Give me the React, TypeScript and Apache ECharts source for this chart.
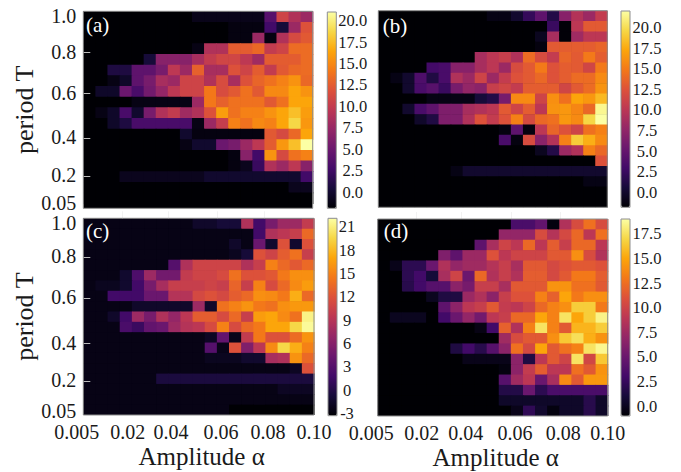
import React, { useEffect, useRef } from "react";
import * as echarts from "echarts";

const A = -1.9, B = -1.8, C = -2.5, D = -1, c0 = -3.3;

const panelA = [
  [A,A,A,A,A,A,A,A,A,-1,-1,-1,-1,-1,-1,3.8,10.7,8.9,7.7],
  [A,A,A,A,A,A,A,A,A,A,A,A,-1.4,-1.4,-1.4,2.7,0.4,7.7,11.8],
  [A,A,A,A,A,A,A,A,A,A,A,A,-1.4,-1.4,7.7,-1.4,8.9,11.2,12.3],
  [A,A,A,A,A,A,A,A,A,-1.2,8.9,8.9,12.5,12.5,13.2,10,10.7,13.4,13.4],
  [A,A,A,A,A,0.4,6.6,6.6,6.6,8.4,10,10.9,10.9,9.6,8,12.5,12.5,12.5,13.4],
  [A,A,0.8,0.8,4.3,4.3,5.7,9.6,7.7,12.8,8.4,8.4,11.8,10.7,12.5,10,12.3,13.2,13.4],
  [A,A,-1.2,-0.3,4.3,5.7,8.4,7.7,10.7,10.7,8.9,11.4,8.4,11.8,13,13.7,14.6,15.5,13.2],
  [A,-0.3,-0.3,5,3.1,5.4,7.3,9.6,10.7,10.7,14.1,11.4,12.3,13.7,12.3,15,15,16.4,15.5],
  [A,A,A,A,-1.2,-1.2,-1.2,-1.2,-1.2,7.7,14.1,12.8,13.7,13.7,13.7,12.3,13.7,16.4,16.4],
  [A,-1.2,-0.3,3.1,-0.1,5.7,8.9,10,8,8.9,11.8,16,13.7,14.6,14.6,15.5,16.4,17.6,16],
  [A,A,-0.3,0.8,3.1,3.1,3.1,3.1,3.1,-1.2,7.7,10.2,14.6,13.7,15,14.6,16.4,18.7,15.7],
  [A,A,A,A,A,A,A,A,-0.1,-1.4,-1.4,-1.4,-1.4,-1.4,-1.4,12.3,11.2,13.2,16.4],
  [A,A,A,A,A,A,A,A,-1.2,-0.1,-0.1,5,5.7,7.7,9.6,12.5,15.7,17.6,21],
  [A,A,A,A,A,A,A,A,A,A,A,A,-1.4,6.6,2.7,15.5,11.2,13.7,14.6],
  [A,A,A,A,A,A,A,A,A,A,A,A,-1.4,-0.8,2.2,8.9,7.7,9.6,6.6],
  [A,A,A,-0.8,-0.8,-0.8,-0.8,-0.8,-0.8,-0.8,-0.1,-0.1,-0.1,-0.1,-0.1,-0.1,-0.1,-0.1,2.7],
  [A,A,A,A,A,A,A,A,A,A,A,A,A,A,A,A,A,-0.8,-0.8],
  [A,A,A,A,A,A,A,A,A,A,A,A,A,A,A,A,A,A,A],
];

const panelB = [
  [B,B,B,B,B,B,B,B,B,-1.1,-1.1,0.1,2.2,4.6,1.3,7,9.6,8.2,10.6],
  [B,B,B,B,B,B,B,B,B,B,B,B,B,B,2.5,-1.6,10.1,13,13],
  [B,B,B,B,B,B,B,B,B,B,B,B,B,-0.6,8.9,-1.6,8.4,10.1,10.1],
  [B,B,B,B,B,B,B,B,B,B,B,B,B,-1.3,13,13.2,13.2,13.2,13.7],
  [B,B,B,B,B,B,B,B,8.9,10.1,10.8,9.4,14.1,12,10.6,13.7,13,14.9,13.2],
  [B,B,B,B,3,3.4,7,7,8.9,10.1,8.2,12,13,14.9,12.5,13.2,13,11.5,14.9],
  [B,-1.1,0.1,3.7,1.1,3.4,9.4,8.2,11.3,8.2,10.6,12.5,13,13.9,12.5,13.2,14.1,14.1,15.8],
  [B,B,0.1,3.4,4.2,2.5,6.1,7.7,7.2,10.8,11.5,10.6,13.2,13.2,13.2,11.5,13,14.1,16.3],
  [B,B,B,B,-1.1,-1.1,-1.1,-1.1,0.6,1.3,6.1,15.8,15.8,11.3,16.1,14.4,17.2,16.5,18.2],
  [B,B,0.1,3.4,4.6,6.5,6.5,8.9,9.4,10.1,13,11.3,13.2,10.1,16.3,16.5,15.6,13.9,21.5],
  [B,B,B,-0.1,1.1,6.5,6.5,9.4,12.5,10.6,12.5,15.3,11.8,13.9,14.4,16.5,15.8,19.6,22],
  [B,B,B,B,B,B,B,B,B,B,-1.3,4.6,-1.3,10.1,13.7,12.5,11.3,14.4,15.3],
  [B,B,B,B,B,B,B,B,B,B,3.4,-1.3,12,7.2,9.6,15.3,19.1,17.7,15.8],
  [B,B,B,B,B,B,B,B,B,B,B,B,B,-0.6,1.3,8.2,9.4,15.3,13.9],
  [B,B,B,B,B,B,B,B,B,B,B,B,B,B,B,B,B,B,12.5],
  [B,B,B,B,B,B,-1.1,0.1,0.1,0.1,0.1,0.1,0.1,0.1,0.1,0.1,0.1,0.1,0.1],
  [B,B,B,B,B,B,B,B,B,B,B,B,B,B,B,B,B,-1.1,-1.1],
  [B,B,B,B,B,B,B,B,B,B,B,B,B,B,B,B,B,B,B],
  [B,B,B,B,B,B,B,B,B,B,B,B,B,B,B,B,B,B,B],
];

const panelC = [
  [C,C,C,C,C,C,C,C,C,-1.5,-1.5,-0.8,-0.8,8.6,1.8,5.1,7.4,7.4,9.9],
  [C,C,C,C,C,C,C,C,C,C,C,C,C,C,1.8,8.6,9.4,10.2,13.5],
  [C,C,C,C,C,C,C,C,C,C,C,C,-1.5,C,4.3,-1.3,11.9,-1.3,11.9],
  [C,C,C,C,C,C,C,C,C,C,C,C,-2,-0.8,11.9,10.7,12.7,14,10.2],
  [C,C,C,C,C,C,C,3,8.6,10.7,10.7,10.7,10.7,8.6,10.2,15,13.5,12.4,13.5],
  [C,C,C,-1.3,2.5,7.4,4.8,4.8,9.9,10.7,10.7,11.4,14,11.9,11.9,12.4,14.5,15.8,15.8],
  [C,-2,-2,-1.3,1.8,5.1,8.1,10.2,10.2,10.2,10.7,10.2,13.2,10.2,15,11.4,13.5,15.5,16.5],
  [C,C,1.8,1.8,1.8,4.3,4.3,8.9,8.9,11.2,11.9,11.2,12.7,13.5,15.8,15.5,14.5,17.5,13.5],
  [C,C,C,C,-1.5,-1.5,-1.5,-1.5,-1.5,7.4,-1.5,14,15,16,14.5,14,15.8,16.3,16.3],
  [C,C,-1.5,1.8,7.4,5.1,8.6,6.9,9.4,12.7,12.7,11.4,13.5,10.2,16.5,17,15.5,14,21.3],
  [C,C,C,2.3,1.3,3.8,4.3,7.4,8.9,9.4,11.4,15,11.4,13.5,14.5,17,17,19.6,21.8],
  [C,C,C,C,C,C,C,C,C,C,-1.8,3.8,-2.3,9.9,14.5,11.9,11.9,13.7,16],
  [C,C,C,C,C,C,C,C,C,C,3,-2.3,11.9,5.6,9.4,15.5,19.6,17.5,15],
  [C,C,C,C,C,C,C,C,C,C,-2,-2,-2,-1.3,-1.3,8.1,8.6,16,13.5],
  [C,C,C,C,C,C,C,C,C,C,C,C,C,C,C,C,C,-1.8,11.9],
  [C,C,C,C,C,C,-0.5,-0.5,-0.5,-0.5,-0.5,-0.5,-0.5,-0.5,-0.5,-0.5,-0.5,-0.5,-0.5],
  [C,C,C,C,C,C,C,C,C,C,C,C,C,C,C,C,-1.8,-1.8,-1.8],
  [C,C,C,C,C,C,C,C,C,C,C,C,C,C,C,C,C,C,C],
  [C,C,C,C,C,C,C,C,C,C,C,C,c0,c0,c0,c0,c0,c0,c0],
];

const panelD = [
  [D,D,D,D,D,D,D,D,D,D,D,3.4,3.4,4.6,-0.6,8.4,10.6,12.6,10.6],
  [D,D,D,D,D,D,D,D,D,D,7,7,7,10.6,8.6,10.4,12.2,9,12.6],
  [D,D,D,D,D,D,D,D,4.4,8,10,9,12.2,9,11.6,9.6,12.2,12.2,9],
  [D,D,D,D,D,6,4.4,7.4,7.4,11,9,10,10,10,11.4,11.4,14,10.6,8.4],
  [D,-0.2,2,2,5,8.4,7,7.6,7.6,8.6,9.6,8,11.4,11.4,10.4,11,11.4,11.4,11],
  [D,D,2,3,1,8,10,5,12.2,8.4,9.6,8.4,11.6,11.6,10.4,11.4,13,13,11.6],
  [D,D,1.8,3,4,4,6.6,5.6,9.6,9.6,8,11.4,11.4,11.4,14.2,14.2,12.6,12.6,11.4],
  [D,D,D,D,0,1.4,1.4,7.4,8.4,6.6,9.6,11,11,13.4,11.8,15,13,14,14],
  [D,D,D,D,D,4.4,6.6,9,9.6,11.4,9.4,9,10,12.2,13.4,14,16.6,16.6,13],
  [D,0,0,0,D,3,5,7,5.4,9,9.6,12.2,12.2,15,13.4,17.6,15,16.6,18.4],
  [D,D,D,D,D,D,D,D,-0.4,3,11.8,8.4,13.4,17.6,13.4,11.4,15.6,15.6,16.6],
  [D,D,D,D,D,D,D,D,D,D,7.6,10.6,11.4,11.4,14,16.4,17.4,15.4,14.2],
  [D,D,D,D,D,D,1.4,3,1.8,4,6.6,12.6,10.4,15,11.4,12.6,13.4,17.6,18.6],
  [D,D,D,D,D,D,D,-0.2,-0.2,-0.2,-0.2,6.6,1.4,9,11.4,10,17.6,10.2,16.4],
  [D,D,D,D,D,D,D,D,D,D,-0.6,6.6,9.4,11.6,9,9,12.6,11.4,14.2],
  [D,D,D,D,D,D,D,D,D,D,4,7.6,9,5,8,13.8,11.4,14.4,14.4],
  [D,D,D,D,D,D,D,D,D,D,1.6,1.6,5,2,3.4,3.4,3.4,3.4,3.4],
  [D,D,D,D,D,D,D,D,D,D,0.4,0.4,0.4,0.4,0.4,0.4,0.4,1.8,0.4],
  [D,D,D,D,D,D,D,D,D,D,D,-0.2,2.2,0.6,-0.6,0.4,0.4,1.8,0.4],
];

const periodLabels = ["1.0", "0.8", "0.6", "0.4", "0.2", "0.05"];
const amplitudeLabels = ["0.005", "0.02", "0.04", "0.06", "0.08", "0.10"];
const barValuesA = [0, 2.5, 5, 7.5, 10, 12.5, 15, 17.5, 20];
const barValuesB = [0, 2.5, 5, 7.5, 10, 12.5, 15, 17.5, 20];
const barValuesC = [-3, 0, 3, 6, 9, 12, 15, 18, 21];
const barValuesD = [0, 2.5, 5, 7.5, 10, 12.5, 15, 17.5];
const panelNames = ["(a)", "(b)", "(c)", "(d)"];

const inferno = ["#000004", "#160b39", "#420a68", "#6a176e", "#932667", "#bc3754", "#dd513a", "#f37819", "#fca50a", "#f6d746", "#fcffa4"];
const SERIF = '"Liberation Serif", serif';

const layout = [
  { data: panelA, x: 83.3, y: 11.3, w: 229.4, h: 197, rows: 18.47, barX: 327.3, barY: 12, barH: 196.3, lo: -1.9, hi: 21, ticks: barValuesA, dec: 1, barMargin: 16.5, nameX: 97.7, nameY: 25 },
  { data: panelB, x: 378.3, y: 10.7, w: 229, h: 196.6, rows: 19, barX: 621, barY: 11, barH: 196.3, lo: -1.8, hi: 22, ticks: barValuesB, dec: 1, barMargin: 17, nameX: 395, nameY: 26 },
  { data: panelC, x: 83.3, y: 218.3, w: 230.7, h: 196.7, rows: 19, barX: 328, barY: 218.3, barH: 197.4, lo: -3.3, hi: 22.1, ticks: barValuesC, dec: 0, barMargin: 10, nameX: 97.7, nameY: 231 },
  { data: panelD, x: 377.7, y: 219, w: 230, h: 197, rows: 19, barX: 621, barY: 219, barH: 197, lo: -1, hi: 19, ticks: barValuesD, dec: 1, barMargin: 17, nameX: 396, nameY: 231 },
];

// Pixel places of the printed ticks and tick labels, which are not evenly spaced in the source.
const yTickPx = [[41.4, 82.4, 127.4, 164.7], [], [39.4, 80.4, 125.4, 162.7], []];
const yLabelPx = [[4.5, 40.5, 81.5, 126, 164, 191.5], [], [5, 37.7, 78.7, 124.7, 161.7, 192.5], []];
const xTickPx = [[], [], [38.7, 84.7, 133.7, 180.7], [39, 84, 134, 182.3]];
const xLabelPx = [[], [], [0, 44.4, 87.7, 137.7, 184.7, 230.7], [0, 44, 88, 137.3, 185.6, 230]];

function nearestIndex(list: number[], v: number) {
  let best = 0;
  list.forEach((x, i) => {
    if (Math.abs(x - v) < Math.abs(list[best] - v)) best = i;
  });
  return best;
}

function buildOption() {
  const grid: any[] = [];
  const xAxis: any[] = [];
  const yAxis: any[] = [];
  const series: any[] = [];
  const visualMap: any[] = [];
  const graphic: any[] = [];

  layout.forEach((p, i) => {
    const toCol = (px: number) => (px / p.w) * 19;
    const toRow = (px: number) => (px / p.h) * p.rows;
    const hasY = yLabelPx[i].length > 0;
    const hasX = xLabelPx[i].length > 0;
    const xVals = xLabelPx[i].map(toCol);
    const yVals = yLabelPx[i].map(toRow);
    grid.push({ left: p.x, top: p.y, width: p.w, height: p.h, show: true, backgroundColor: inferno[0], borderWidth: 0 });
    xAxis.push({
      gridIndex: i, type: "value", z: 10, min: 0, max: 19, splitLine: { show: false }, axisLine: { show: false },
      name: hasX ? "Amplitude α" : "", nameLocation: "middle", nameGap: 29,
      nameTextStyle: { fontFamily: SERIF, fontSize: 25, color: "#1a1a1a", padding: [0, 0, 0, 6] },
      axisTick: { show: hasX, inside: true, length: 7, customValues: xTickPx[i].map(toCol), lineStyle: { color: "#f2f2f2", width: 1 } },
      axisLabel: {
        show: hasX, margin: 6.5, customValues: xVals, fontFamily: SERIF, fontSize: 20, color: "#1a1a1a",
        formatter: (v: number) => {
          const idx = nearestIndex(xVals, v);
          return idx === 0 ? "{first|" + amplitudeLabels[0] + "}" : amplitudeLabels[idx];
        },
        rich: { first: { fontFamily: SERIF, fontSize: 20, color: "#1a1a1a", padding: [0, 13, 0, 0] } },
      },
    });
    yAxis.push({
      gridIndex: i, type: "value", z: 10, inverse: true, min: 0, max: p.rows, splitLine: { show: false }, axisLine: { show: false },
      name: hasY ? "period T" : "", nameLocation: "middle", nameGap: 45, nameRotate: 90,
      nameTextStyle: { fontFamily: SERIF, fontSize: 26, color: "#1a1a1a" },
      axisTick: { show: hasY, inside: true, length: 7, customValues: yTickPx[i].map(toRow), lineStyle: { color: "#bdbdbd", width: 1 } },
      axisLabel: {
        show: hasY, margin: 7, customValues: yVals, fontFamily: SERIF, fontSize: 20, color: "#1a1a1a",
        formatter: (v: number) => periodLabels[nearestIndex(yVals, v)],
      },
    });
    const cells: number[][] = [];
    p.data.forEach((row, r) => row.forEach((v, c) => cells.push([c, r, v])));
    series.push({
      type: "custom", xAxisIndex: i, yAxisIndex: i, coordinateSystem: "cartesian2d", clip: true, silent: true,
      encode: { x: 0, y: 1 }, data: cells,
      renderItem: (_: any, api: any) => {
        const col = api.value(0), row = api.value(1);
        const a = api.coord([col, row]);
        const b = api.coord([col + 1, row + 1]);
        const fill = api.visual("color");
        return { type: "rect", shape: { x: a[0], y: a[1], width: b[0] - a[0] + 0.7, height: b[1] - a[1] + 0.7 }, style: { fill } };
      },
    });
    visualMap.push({
      type: "continuous", seriesIndex: i, dimension: 2, min: p.lo, max: p.hi, left: p.barX, top: p.barY, padding: 0,
      itemWidth: 9, itemHeight: p.barH, text: ["", ""], calculable: false, hoverLink: false, realtime: false,
      inRange: { color: inferno },
    });
    graphic.push({ type: "rect", z: 100, silent: true, shape: { x: p.x, y: p.y, width: p.w, height: p.h }, style: { fill: "none", stroke: "#8e8e8e", lineWidth: 1 } });
    graphic.push({ type: "rect", z: 100, silent: true, shape: { x: p.barX, y: p.barY, width: 9, height: p.barH }, style: { fill: "none", stroke: "#8e8e8e", lineWidth: 1 } });
    graphic.push({ type: "text", z: 101, silent: true, style: { text: panelNames[i], x: p.nameX, y: p.nameY, fill: "#ffffff", fontFamily: SERIF, fontSize: 21, align: "center", verticalAlign: "middle" } });
  });

  layout.forEach((p, i) => {
    const g = 4 + i;
    grid.push({ left: p.barX, top: p.barY, width: 9, height: p.barH, show: false });
    xAxis.push({ gridIndex: g, type: "value", min: 0, max: 1, show: false });
    yAxis.push({
      gridIndex: g, type: "value", position: "right", min: p.lo, max: p.hi, splitLine: { show: false }, axisLine: { show: false }, axisTick: { show: false },
      axisLabel: {
        customValues: p.ticks, align: "center", margin: p.barMargin, fontFamily: SERIF, fontSize: 16.5, color: "#1a1a1a",
        formatter: (v: number) => v.toFixed(p.dec),
      },
    });
  });

  return { animation: false, backgroundColor: "#ffffff", grid, xAxis, yAxis, series, visualMap, graphic };
}

export default function App() {
  const ref = useRef<HTMLDivElement>(null);
  useEffect(() => {
    document.body.style.margin = "0";
    const chart = echarts.init(ref.current as HTMLDivElement, undefined, { renderer: "svg" });
    chart.setOption(buildOption() as any);
    return () => chart.dispose();
  }, []);
  return <div ref={ref} style={{ width: 681, height: 472 }} />;
}
